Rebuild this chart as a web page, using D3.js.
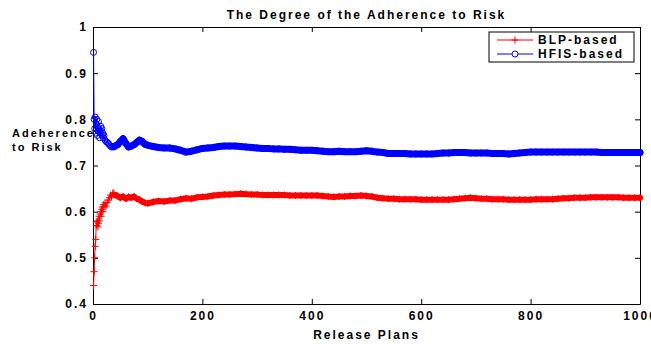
<!DOCTYPE html>
<html>
<head>
<meta charset="utf-8">
<script src="https://cdn.jsdelivr.net/npm/d3@7"></script>
<style>
  html, body { margin: 0; padding: 0; background: #fff; }
  svg { display: block; font-family: 'Liberation Sans', Arial, Helvetica, sans-serif; }
  .lbl { font-weight: bold; font-size: 12px; letter-spacing: 2px; fill: #000; }
  .ylbl { font-size: 11px; }
</style>
</head>
<body>
<div id="chart"></div>
<script>
// release plan indices the values were read at (dense at start, then every 10)
const plans = [].concat(d3.range(1, 21), d3.range(22, 41, 2), d3.range(45, 100, 5), d3.range(100, 1001, 10));

const blpValues = [
  0.44, 0.47, 0.50, 0.525, 0.54, 0.578, 0.57, 0.58, 0.567, 0.575,
  0.59, 0.58, 0.595, 0.60, 0.59, 0.605, 0.61, 0.60, 0.615, 0.61,
  0.619, 0.612, 0.62, 0.625, 0.63, 0.636, 0.632, 0.64, 0.641, 0.636,
  0.634, 0.63, 0.633, 0.628, 0.632, 0.63, 0.633, 0.628, 0.626, 0.622, 0.619,
  0.618, 0.621, 0.623, 0.622, 0.624, 0.624, 0.627, 0.629, 0.628, 0.631,
  0.632, 0.633, 0.635, 0.636, 0.637, 0.637, 0.638, 0.639, 0.638, 0.637,
  0.637, 0.636, 0.636, 0.636, 0.636, 0.636, 0.635, 0.635, 0.635, 0.635,
  0.635, 0.635, 0.634, 0.633, 0.632, 0.633, 0.633, 0.634, 0.634, 0.635,
  0.634, 0.633, 0.630, 0.629, 0.628, 0.628, 0.627, 0.627, 0.627, 0.627,
  0.626, 0.626, 0.626, 0.626, 0.626, 0.626, 0.627, 0.628, 0.629, 0.630,
  0.629, 0.628, 0.628, 0.627, 0.627, 0.627, 0.626, 0.626, 0.626, 0.626,
  0.626, 0.627, 0.627, 0.627, 0.627, 0.628, 0.629, 0.629, 0.630, 0.630,
  0.630, 0.631, 0.631, 0.631, 0.631, 0.631, 0.631, 0.630, 0.630, 0.630,
  0.630
];

const hfisValues = [
  0.945, 0.80, 0.78, 0.805, 0.77, 0.79, 0.80, 0.765, 0.775, 0.795,
  0.78, 0.76, 0.77, 0.785, 0.775, 0.78, 0.765, 0.77, 0.76, 0.765,
  0.755, 0.752, 0.75, 0.748, 0.745, 0.742, 0.74, 0.741, 0.74, 0.742,
  0.745, 0.752, 0.758, 0.748, 0.74, 0.742, 0.745, 0.75, 0.755, 0.752, 0.746,
  0.744, 0.741, 0.739, 0.738, 0.738, 0.736, 0.733, 0.729, 0.731, 0.734,
  0.737, 0.738, 0.739, 0.741, 0.742, 0.742, 0.742, 0.741, 0.740, 0.739,
  0.738, 0.737, 0.737, 0.736, 0.736, 0.735, 0.735, 0.734, 0.733, 0.733,
  0.733, 0.732, 0.731, 0.730, 0.730, 0.731, 0.730, 0.730, 0.730, 0.731,
  0.732, 0.731, 0.729, 0.728, 0.726, 0.726, 0.726, 0.726, 0.725, 0.725,
  0.725, 0.725, 0.725, 0.726, 0.727, 0.727, 0.728, 0.728, 0.728, 0.727,
  0.727, 0.727, 0.727, 0.726, 0.726, 0.726, 0.725, 0.726, 0.727, 0.728,
  0.729, 0.729, 0.729, 0.729, 0.729, 0.729, 0.729, 0.729, 0.729, 0.729,
  0.729, 0.729, 0.729, 0.728, 0.728, 0.728, 0.728, 0.728, 0.728, 0.728,
  0.728
];

const seriesNames = ['BLP-based', 'HFIS-based'];
const xTicks = [0, 200, 400, 600, 800, 1000];
const yTicks = [0.4, 0.5, 0.6, 0.7, 0.8, 0.9, 1];

const W = 651, H = 344;
const margin = { top: 27, right: 11, bottom: 40, left: 93 };
const width = W - margin.left - margin.right;
const height = H - margin.top - margin.bottom;

const svg = d3.select('#chart').append('svg').attr('width', W).attr('height', H);
const g = svg.append('g').attr('transform', `translate(${margin.left},${margin.top})`);

const x = d3.scaleLinear().domain([0, 1000]).range([0, width]);
const y = d3.scaleLinear().domain([0.4, 1]).range([height, 0]);

// --- axes (MATLAB box, inward ticks on all four sides) ---
const fmtY = d => d === 1 ? '1' : d.toFixed(1);
const styleAxis = sel => {
  sel.selectAll('path, line').attr('stroke', '#000').attr('stroke-width', 1);
  sel.selectAll('text').attr('class', 'lbl').attr('font-size', null).attr('font-family', null);
};
g.append('g').attr('transform', `translate(0,${height})`)
  .call(d3.axisBottom(x).tickValues(xTicks).tickFormat(d3.format('d'))
    .tickSizeInner(-5).tickSizeOuter(0).tickPadding(7))
  .call(styleAxis);
g.append('g')
  .call(d3.axisTop(x).tickValues(xTicks).tickSizeInner(-5).tickSizeOuter(0).tickFormat(''))
  .call(styleAxis);
g.append('g')
  .call(d3.axisLeft(y).tickValues(yTicks).tickSizeInner(-5).tickSizeOuter(0).tickPadding(5).tickFormat(fmtY))
  .call(styleAxis);
g.append('g').attr('transform', `translate(${width},0)`)
  .call(d3.axisRight(y).tickValues(yTicks).tickSizeInner(-5).tickSizeOuter(0).tickFormat(''))
  .call(styleAxis);

// --- data ---
const series = [
  { name: seriesNames[0], values: blpValues, color: '#ff0000', marker: 'plus', band: 6 },
  { name: seriesNames[1], values: hfisValues, color: '#0000ff', marker: 'circle', band: 7 }
];

const line = d3.line().x(d => x(d[0])).y(d => y(d[1]));

series.forEach(s => {
  const pts = plans.map((p, i) => [p, s.values[i]]);
  const sg = g.append('g');
  sg.append('path').datum(pts).attr('d', line)
    .attr('fill', 'none').attr('stroke', s.color).attr('stroke-width', 1);
  // overlapping markers of the dense part form a solid band
  sg.append('path').datum(pts.filter(d => d[0] >= 40)).attr('d', line)
    .attr('fill', 'none').attr('stroke', s.color).attr('stroke-width', s.band)
    .attr('stroke-linejoin', 'round').attr('stroke-linecap', 'round');
  if (s.marker === 'plus') {
    sg.selectAll('path.mk').data(pts).enter().append('path').attr('class', 'mk')
      .attr('d', d => `M${x(d[0]) - 3.5},${y(d[1])}h7M${x(d[0])},${y(d[1]) - 3.5}v7`)
      .attr('stroke', s.color).attr('stroke-width', 1).attr('fill', 'none');
  } else {
    sg.selectAll('circle.mk').data(pts).enter().append('circle').attr('class', 'mk')
      .attr('cx', d => x(d[0])).attr('cy', d => y(d[1])).attr('r', 3)
      .attr('stroke', s.color).attr('stroke-width', 1).attr('fill', 'none');
  }
});

// --- titles ---
svg.append('text').attr('class', 'lbl').attr('x', margin.left + width / 2).attr('y', 19)
  .attr('text-anchor', 'middle').text('The Degree of the Adherence to Risk');
svg.append('text').attr('class', 'lbl').attr('x', margin.left + width / 2).attr('y', 339)
  .attr('text-anchor', 'middle').text('Release Plans');
svg.append('text').attr('class', 'lbl ylbl').attr('x', 12).attr('y', 137).text('Adeherence');
svg.append('text').attr('class', 'lbl ylbl').attr('x', 12).attr('y', 151).text('to Risk');

// --- legend ---
const lg = svg.append('g').attr('transform', 'translate(489,32)');
lg.append('rect').attr('width', 145).attr('height', 30).attr('fill', '#fff').attr('stroke', '#000').attr('stroke-width', 1);
series.forEach((s, i) => {
  const ly = 8 + i * 14;
  lg.append('line').attr('x1', 8).attr('x2', 44).attr('y1', ly).attr('y2', ly)
    .attr('stroke', s.color).attr('stroke-width', 1);
  if (s.marker === 'plus') {
    lg.append('path').attr('d', `M22.5,${ly}h7M26,${ly - 3.5}v7`).attr('stroke', s.color).attr('fill', 'none');
  } else {
    lg.append('circle').attr('cx', 26).attr('cy', ly).attr('r', 3).attr('stroke', s.color).attr('fill', '#fff');
  }
  lg.append('text').attr('class', 'lbl').attr('x', 49).attr('y', ly + 4).text(s.name);
});
</script>
</body>
</html>
